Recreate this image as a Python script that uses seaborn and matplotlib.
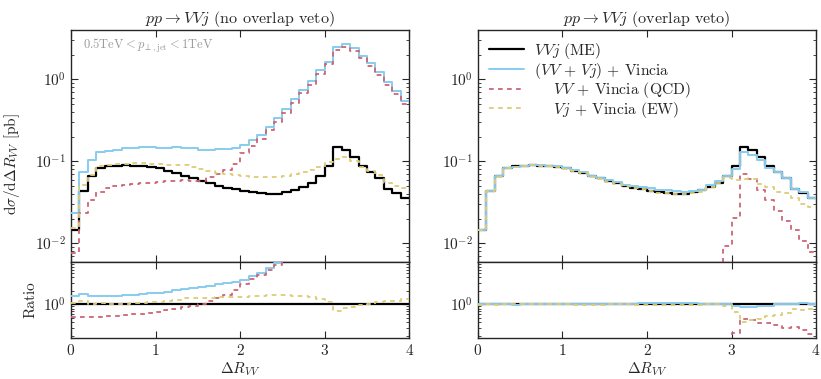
import numpy as np
import pandas as pd
import matplotlib
matplotlib.use("Agg")
import matplotlib.pyplot as plt
import seaborn as sns
from matplotlib.ticker import LogLocator, NullFormatter, FixedLocator
from matplotlib.lines import Line2D

# ---------------- data (40 bins of width 0.1 in Delta R_VV) ----------------
bin_edges = [round(0.1 * k, 1) for k in range(41)]

# VVj (ME) - identical reference in both panels
vvj_me = [0.0148, 0.0438, 0.066, 0.084, 0.087, 0.089, 0.090, 0.089, 0.088, 0.085,
          0.082, 0.077, 0.072, 0.066, 0.062, 0.057, 0.054, 0.050, 0.048, 0.046,
          0.044, 0.042, 0.041, 0.040, 0.040, 0.042, 0.045, 0.049, 0.055, 0.066,
          0.087, 0.148, 0.136, 0.114, 0.089, 0.074, 0.0625, 0.046, 0.041, 0.036]

# no overlap veto
sum_noveto = [0.0232, 0.0733, 0.1035, 0.129, 0.134, 0.139, 0.145, 0.147, 0.150, 0.150,
              0.146, 0.147, 0.150, 0.147, 0.144, 0.138, 0.136, 0.141, 0.142, 0.147,
              0.158, 0.183, 0.210, 0.265, 0.340, 0.435, 0.58, 0.75, 0.95, 1.29,
              1.64, 2.50, 2.70, 2.40, 1.95, 1.58, 1.24, 0.94, 0.72, 0.545]
qcd_noveto = [0.0076, 0.0234, 0.034, 0.043, 0.047, 0.0495, 0.052, 0.053, 0.054, 0.055,
              0.0558, 0.057, 0.058, 0.059, 0.058, 0.058, 0.064, 0.070, 0.078, 0.094,
              0.125, 0.155, 0.185, 0.24, 0.30, 0.39, 0.52, 0.68, 0.86, 1.17,
              1.52, 2.30, 2.50, 2.20, 1.80, 1.45, 1.13, 0.86, 0.66, 0.50]
ew_noveto = [0.0155, 0.051, 0.0685, 0.089, 0.091, 0.0925, 0.094, 0.095, 0.095, 0.094,
             0.0925, 0.091, 0.091, 0.090, 0.086, 0.080, 0.076, 0.073, 0.070, 0.068,
             0.066, 0.065, 0.064, 0.064, 0.065, 0.067, 0.071, 0.075, 0.079, 0.085,
             0.098, 0.107, 0.112, 0.100, 0.085, 0.077, 0.069, 0.055, 0.050, 0.048]

# overlap veto
sum_veto = [0.0148, 0.0438, 0.066, 0.084, 0.086, 0.089, 0.090, 0.091, 0.088, 0.0875,
            0.082, 0.078, 0.074, 0.0665, 0.063, 0.059, 0.056, 0.051, 0.0495, 0.049,
            0.047, 0.0445, 0.0447, 0.0436, 0.0424, 0.044, 0.045, 0.051, 0.057, 0.066,
            0.081, 0.129, 0.120, 0.103, 0.082, 0.074, 0.0625, 0.046, 0.043, 0.036]
qcd_veto = [0, 0, 0, 0, 0, 0, 0, 0, 0, 0,
            0, 0, 0, 0, 0, 0, 0, 0, 0, 0,
            0, 0, 0, 0, 0, 0, 0, 0, 0, 0.0092,
            0.0204, 0.0705, 0.0612, 0.0443, 0.034, 0.025, 0.019, 0.0144, 0.0108, 0.0079]
ew_veto = [0.0147, 0.0436, 0.0655, 0.0835, 0.0865, 0.0885, 0.0895, 0.0885, 0.0875, 0.0845,
           0.0815, 0.0765, 0.0715, 0.0655, 0.0615, 0.0567, 0.0537, 0.0497, 0.0477, 0.0457,
           0.0437, 0.0417, 0.0407, 0.0397, 0.0397, 0.0417, 0.043, 0.049, 0.055, 0.062,
           0.060, 0.061, 0.061, 0.053, 0.049, 0.042, 0.041, 0.036, 0.030, 0.028]

labels = [r"$VVj$ (ME)", r"$(VV\,+\,Vj)$ + Vincia",
          r"$\quad\;\, VV$ + Vincia (QCD)", r"$\quad\;\, Vj$ + Vincia (EW)"]
titles = [r"$pp\rightarrow VVj$ (no overlap veto)", r"$pp\rightarrow VVj$ (overlap veto)"]

# ---------------- style ----------------
sns.set_style("ticks")
plt.rcParams.update({
    "font.family": "serif",
    "font.serif": ["cmr10", "DejaVu Serif"],
    "mathtext.fontset": "cm",
    "axes.formatter.use_mathtext": True,
    "axes.unicode_minus": False,
    "font.size": 11,
    "axes.linewidth": 1.0,
})

C_BLACK = "black"
C_BLUE = "#88CCEE"
C_RED = "#CC6677"
C_YEL = "#DDCC77"
DASH = (0, (2.6, 2.4))

edges_arr = np.asarray(bin_edges)
centers = 0.5 * (edges_arr[1:] + edges_arr[:-1])

fig = plt.figure(figsize=(8.21, 3.79), dpi=100)
W = 0.412
lefts = [0.0865, 0.582]
main_b, main_h = 0.3095, 0.6115
rat_b, rat_h = 0.109, 0.2005


def step(ax, vals, color, ls="-", lw=1.4, z=2):
    df = pd.DataFrame({"x": centers, "w": np.asarray(vals, float)})
    sns.histplot(data=df, x="x", weights="w", bins=list(bin_edges),
                 element="step", fill=False, color=color, linestyle=ls,
                 linewidth=lw, ax=ax, zorder=z)


def style(ax, ylim):
    ax.set_yscale("log")
    ax.set_ylim(*ylim)
    ax.set_xlim(0, 4)
    ax.xaxis.set_major_locator(FixedLocator([0, 1, 2, 3, 4]))
    ax.yaxis.set_major_locator(LogLocator(base=10))
    ax.yaxis.set_minor_locator(LogLocator(base=10, subs=np.arange(2, 10) * 1.0, numticks=20))
    ax.yaxis.set_minor_formatter(NullFormatter())
    ax.tick_params(which="both", direction="in", top=True, right=True, labelsize=11)
    ax.tick_params(which="major", length=5)
    ax.tick_params(which="minor", length=2.5)
    ax.set_xlabel("")
    ax.set_ylabel("")


panels = [
    (sum_noveto, qcd_noveto, ew_noveto),
    (sum_veto, qcd_veto, ew_veto),
]

for i, (s, q, e) in enumerate(panels):
    axm = fig.add_axes([lefts[i], main_b, W, main_h])
    axr = fig.add_axes([lefts[i], rat_b, W, rat_h], sharex=axm)

    step(axm, vvj_me, C_BLACK, lw=1.6, z=2)
    step(axm, s, C_BLUE, lw=1.4, z=3)
    step(axm, q, C_RED, ls=DASH, lw=1.3, z=4)
    step(axm, e, C_YEL, ls=DASH, lw=1.3, z=4)

    ref = np.asarray(vvj_me)
    step(axr, ref / ref, C_BLACK, lw=1.6, z=2)
    step(axr, np.asarray(s) / ref, C_BLUE, lw=1.4, z=3)
    step(axr, np.asarray(q) / ref, C_RED, ls=DASH, lw=1.3, z=4)
    step(axr, np.asarray(e) / ref, C_YEL, ls=DASH, lw=1.3, z=4)

    style(axm, (0.006, 4.0))
    style(axr, (0.18, 9.0))
    axm.tick_params(labelbottom=False)
    axm.set_title(titles[i], fontsize=11.5, pad=5)
    axr.set_xlabel(r"$\Delta R_{VV}$", fontsize=11, labelpad=2)

    if i == 0:
        axm.set_ylabel(r"$\mathrm{d}\sigma/\mathrm{d}\Delta R_{VV}$ [pb]", fontsize=11)
        axm.yaxis.set_label_coords(-0.145, 0.42)
        axr.set_ylabel("Ratio", fontsize=11)
        axm.text(0.035, 0.97, r"$0.5\mathrm{TeV} < p_{\perp,\mathrm{jet}} < 1\mathrm{TeV}$",
                 transform=axm.transAxes, ha="left", va="top", fontsize=9, color="#999999")
    else:
        handles = [Line2D([], [], color=C_BLACK, lw=1.6),
                   Line2D([], [], color=C_BLUE, lw=1.4),
                   Line2D([], [], color=C_RED, lw=1.3, ls=DASH),
                   Line2D([], [], color=C_YEL, lw=1.3, ls=DASH)]
        axm.legend(handles, labels, loc="upper left", frameon=False, fontsize=11.2,
                   handlelength=2.3, labelspacing=-0.02, borderaxespad=0.3,
                   handletextpad=0.6)

fig.savefig("out.png", dpi=100)
